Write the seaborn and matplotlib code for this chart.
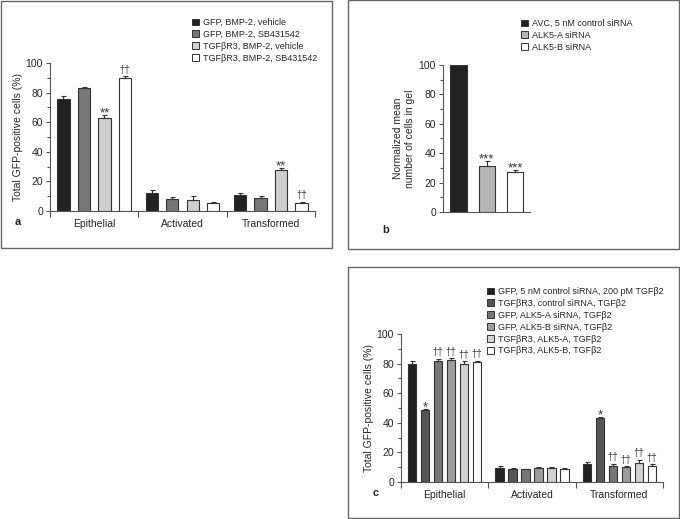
import numpy as np
import pandas as pd
import seaborn as sns
import matplotlib.pyplot as plt
from matplotlib.patches import Rectangle
from matplotlib.ticker import MultipleLocator

# ---- data ----
cells = ['Epithelial', 'Activated', 'Transformed']

a_groups = ['GFP, BMP-2, vehicle', 'GFP, BMP-2, SB431542',
            'TGFβR3, BMP-2, vehicle', 'TGFβR3, BMP-2, SB431542']
a_mean = [[76, 12, 11], [83, 8, 9], [63, 7.5, 27.5], [90, 5.5, 5.5]]
a_err = [[2, 2, 1.2], [0.7, 1.3, 1], [2, 2.5, 1.5], [1, 0.5, 0.8]]
a_marks = [['', '', ''], ['', '', ''], ['**', '', '**'], ['††', '', '††']]
a_colors = ['#222222', '#777777', '#cfcfcf', '#ffffff']

b_groups = ['AVC, 5 nM control siRNA', 'ALK5-A siRNA', 'ALK5-B siRNA']
b_mean = [100, 31, 27]
b_err = [0, 3.5, 1.5]
b_marks = ['', '***', '***']
b_colors = ['#222222', '#b5b5b5', '#ffffff']

c_groups = ['GFP, 5 nM control siRNA, 200 pM TGFβ2', 'TGFβR3, control siRNA, TGFβ2',
            'GFP, ALK5-A siRNA, TGFβ2', 'GFP, ALK5-B siRNA, TGFβ2',
            'TGFβR3, ALK5-A, TGFβ2', 'TGFβR3, ALK5-B, TGFβ2']
c_mean = [[79.5, 9.5, 12.5], [48.5, 8.5, 43], [82, 8.5, 11],
          [82.5, 9.5, 10], [80, 9.5, 13], [81, 8.5, 11]]
c_err = [[2.5, 1, 0.8], [1, 1.2, 1], [1.2, 0.5, 1.2],
         [1, 0.4, 0.5], [1.5, 0.3, 1.8], [1, 1, 1]]
c_marks = [['', '', ''], ['*', '', '*'], ['††', '', '††'],
           ['††', '', '††'], ['††', '', '††'], ['††', '', '††']]
c_colors = ['#222222', '#555555', '#777777', '#9c9c9c', '#d2d2d2', '#ffffff']

sns.set_style('ticks')
plt.rcParams['font.family'] = ['Liberation Sans', 'DejaVu Sans']
plt.rcParams['font.size'] = 7
AX = '#555555'
EDGE = '#333333'

W, H = 680, 519
fig = plt.figure(figsize=(6.8, 5.19), dpi=100)


def px_axes(left, right, top, bottom):
    return fig.add_axes([left / W, 1 - bottom / H, (right - left) / W, (bottom - top) / H])


def frame(x0, y0, x1, y1):
    fig.add_artist(Rectangle((x0 / W, 1 - y1 / H), (x1 - x0) / W, (y1 - y0) / H,
                             transform=fig.transFigure, fill=False,
                             edgecolor='#666666', linewidth=1.0))


def mark(ax, x, top, t):
    # asterisks sit high in the glyph box, daggers do not
    if '*' in t:
        ax.text(x, top + 1.0, t, ha='center', va='center', fontsize=9.5, color='#333333')
    else:
        ax.text(x, top + 4.5, t, ha='center', va='center', fontsize=7, color='#333333')


def style_axis(ax):
    sns.despine(ax=ax)
    for s in ['left', 'bottom']:
        ax.spines[s].set_color(AX)
        ax.spines[s].set_linewidth(0.8)
    ax.set_ylim(0, 100)
    ax.yaxis.set_major_locator(MultipleLocator(20))
    ax.yaxis.set_minor_locator(MultipleLocator(10))
    ax.tick_params(axis='y', which='major', length=3, width=0.8, color=AX, pad=2, labelsize=7.5)
    ax.tick_params(axis='y', which='minor', length=2.5, width=0.8, color=AX)


def grouped(ax, groups, means, errs, marks, colors, width, gap):
    rows = []
    for g, m in zip(groups, means):
        for c, v in zip(cells, m):
            rows.append({'cell': c, 'group': g, 'value': v})
    df = pd.DataFrame(rows)
    sns.barplot(data=df, x='cell', y='value', hue='group', order=cells, hue_order=groups,
                palette=colors, width=width, gap=gap, edgecolor=EDGE, linewidth=0.8,
                errorbar=None, legend=False, ax=ax)
    for cont, e, mk in zip(ax.containers, errs, marks):
        xs = [b.get_x() + b.get_width() / 2 for b in cont]
        hs = [b.get_height() for b in cont]
        ax.errorbar(xs, hs, yerr=[np.zeros(len(e)), e], fmt='none', ecolor=EDGE,
                    elinewidth=0.8, capsize=1.8, capthick=0.8)
        for x, h, ee, t in zip(xs, hs, e, mk):
            if t:
                mark(ax, x, h + ee, t)
    style_axis(ax)
    ax.set_xlim(-0.5, 2.5)
    ax.set_xticks([0, 1, 2])
    ax.set_xticklabels(cells, fontsize=7.5)
    ax.set_xticks([-0.5, 0.5, 1.5, 2.5], minor=True)
    ax.tick_params(axis='x', which='major', length=0, pad=6)
    ax.tick_params(axis='x', which='minor', length=4, width=0.8, color=AX)
    ax.set_xlabel('')
    ax.set_ylabel('Total GFP-positive cells (%)', fontsize=7.5, labelpad=2)


def legend(ax, labels, colors, x, y):
    handles = [Rectangle((0, 0), 1, 1, facecolor=c, edgecolor=EDGE, linewidth=0.7) for c in colors]
    ax.legend(handles, labels, loc='upper left', bbox_to_anchor=(x / W, 1 - y / H),
              bbox_transform=fig.transFigure, frameon=False, fontsize=6.5,
              handlelength=0.75, handleheight=0.75, handletextpad=0.45,
              labelspacing=0.32, borderpad=0, borderaxespad=0)


# ---- panel a ----
frame(0.5, 0.5, 332, 248)
ax_a = px_axes(50, 315, 63, 211)
grouped(ax_a, a_groups, a_mean, a_err, a_marks, a_colors, 0.93, 0.4)
legend(ax_a, a_groups, a_colors, 192, 18)
fig.text(15 / W, 1 - 222 / H, 'a', fontsize=8, fontweight='bold', va='center')

# ---- panel b ----
frame(348, 0.5, 679, 249)
ax_b = px_axes(443, 530, 65, 212)
sns.barplot(x=b_groups, y=b_mean, hue=b_groups, palette=b_colors, width=0.58,
            edgecolor=EDGE, linewidth=0.8, legend=False, ax=ax_b)
for cont, e, mk in zip(ax_b.containers, b_err, b_marks):
    bar = cont[0]
    x = bar.get_x() + bar.get_width() / 2
    h = bar.get_height()
    if e:
        ax_b.errorbar([x], [h], yerr=[[0], [e]], fmt='none', ecolor=EDGE,
                      elinewidth=0.8, capsize=1.8, capthick=0.8)
    if mk:
        mark(ax_b, x, h + e, mk)
style_axis(ax_b)
ax_b.set_xlim(-0.55, 2.53)
ax_b.set_xticks([])
ax_b.set_ylabel('Normalized mean\nnumber of cells in gel', fontsize=7.5, labelpad=3)
legend(ax_b, b_groups, b_colors, 521, 19)
fig.text(382 / W, 1 - 230 / H, 'b', fontsize=8, fontweight='bold', va='center')

# ---- panel c ----
frame(348, 267, 679, 518)
ax_c = px_axes(401, 663, 334, 482)
grouped(ax_c, c_groups, c_mean, c_err, c_marks, c_colors, 0.89, 0.35)
legend(ax_c, c_groups, c_colors, 487, 287)
fig.text(373 / W, 1 - 493 / H, 'c', fontsize=8, fontweight='bold', va='center')

fig.savefig('out.png', dpi=100)
